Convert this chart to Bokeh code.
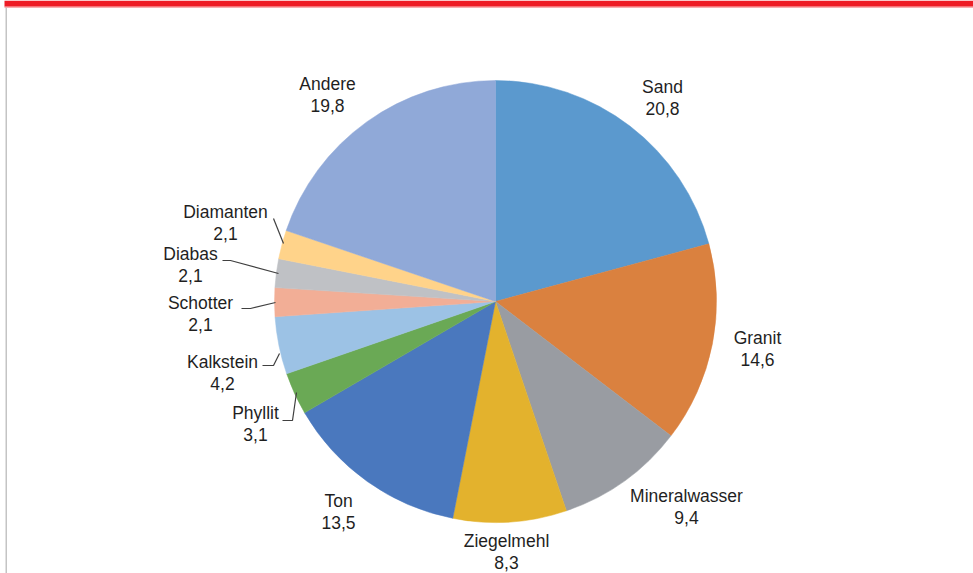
import math
from bokeh.plotting import figure
from bokeh.models import Range1d, ColumnDataSource
from bokeh.core.properties import value
from bokeh.embed import file_html
from bokeh.resources import INLINE

# ---- data ----
categories = ["Sand", "Granit", "Mineralwasser", "Ziegelmehl", "Ton", "Phyllit",
              "Kalkstein", "Schotter", "Diabas", "Diamanten", "Andere"]
shares = [20.8, 14.6, 9.4, 8.3, 13.5, 3.1, 4.2, 2.1, 2.1, 2.1, 19.8]
value_labels = ["20,8", "14,6", "9,4", "8,3", "13,5", "3,1", "4,2", "2,1", "2,1", "2,1", "19,8"]
colors = ["#5B99CE", "#DA813F", "#999CA2", "#E3B22D", "#4A78BE", "#6AA955",
          "#9CC2E5", "#F2AE96", "#BFC1C5", "#FFD38A", "#90A9D8"]

# ---- layout (reference pixel coordinates) ----
W, H = 973, 573
OFF = 0
label_pos = [(662, 97), (757, 348), (686, 506), (506, 551), (338, 511), (255, 423),
             (222, 372), (200, 313), (190, 264), (225, 222), (327, 94)]
leaders = [None, None, None, None, None,
           [(282, 420), (292, 420), (296, 392)],
           [(262, 365), (273, 365), (279, 353)],
           [(241, 308), (250, 308), (275, 302)],
           [(222, 260), (230, 260), (278, 273)],
           [(273, 218), (283, 243)],
           None]
CX, CY, R = 495, 301, 221


def px(x):
    return x - OFF


def py(y):
    return H - (y - OFF)


p = figure(width=W, height=H, output_backend="svg", toolbar_location=None,
           x_axis_type=None, y_axis_type=None,
           x_range=Range1d(0, W), y_range=Range1d(0, H),
           min_border=0, min_border_left=0, min_border_right=0,
           min_border_top=0, min_border_bottom=0)
p.outline_line_color = None
p.grid.visible = False
p.background_fill_color = "white"
p.border_fill_color = "white"

# frame decorations
p.quad(left=[px(4)], right=[W], top=[H], bottom=[py(6)], fill_color="#EE1C25", line_color=None)
p.quad(left=[px(4)], right=[W], top=[py(6)], bottom=[py(7)], fill_color="#F55A60", line_color=None)
p.quad(left=[px(5)], right=[px(6.5)], top=[py(7)], bottom=[0], fill_color="#C4C4C4", line_color=None)

total = sum(shares)
starts, ends = [], []
cum = 0.0
for s in shares:
    starts.append(math.pi / 2 - 2 * math.pi * cum / total)
    cum += s
    ends.append(math.pi / 2 - 2 * math.pi * cum / total)

src = ColumnDataSource(dict(start=starts, end=ends, color=colors, cat=categories))
p.wedge(x=px(CX), y=py(CY), radius=R, start_angle="start", end_angle="end",
        direction="clock", fill_color="color", line_color="color", line_width=0.5,
        source=src)

for pts in leaders:
    if pts:
        p.line(x=[px(a) for a, b in pts], y=[py(b) for a, b in pts],
               line_color="#404040", line_width=1.2)

lx = [px(a) for a, b in label_pos]
ly1 = [py(b) + 10.5 for a, b in label_pos]
ly2 = [py(b) - 10.5 for a, b in label_pos]
p.text(x=lx, y=ly1, text=categories, text_align="center", text_baseline="middle",
       text_font=value("Liberation Sans"), text_font_size="17.5px", text_color="#1f1f1f")
p.text(x=lx, y=ly2, text=value_labels, text_align="center", text_baseline="middle",
       text_font=value("Liberation Sans"), text_font_size="17.5px", text_color="#1f1f1f")

open("out.html", "w").write(file_html(p, INLINE))
